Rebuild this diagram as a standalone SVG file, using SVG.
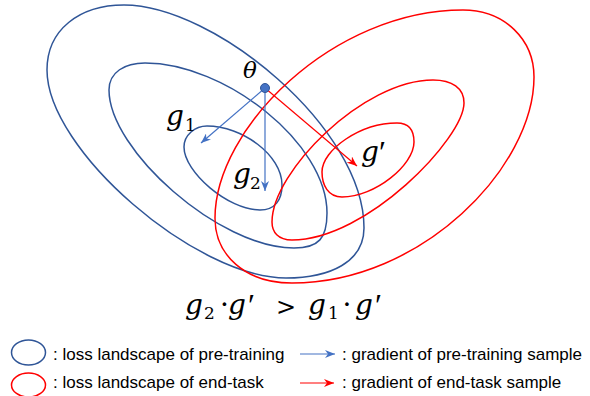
<svg xmlns="http://www.w3.org/2000/svg" width="590" height="396" viewBox="0 0 590 396">
<defs>
<marker id="ab" markerWidth="11" markerHeight="8" refX="10" refY="4" orient="auto" markerUnits="userSpaceOnUse"><path d="M0,0 L10,4 L0,8 L3,4 Z" fill="#4472C4"/></marker>
<marker id="ar" markerWidth="11" markerHeight="8" refX="10" refY="4" orient="auto" markerUnits="userSpaceOnUse"><path d="M0,0 L10,4 L0,8 L3,4 Z" fill="#FF0000"/></marker>
</defs>
<style>
.pre{fill:none;stroke:#2F5597;stroke-width:1.5}
.end{fill:none;stroke:#FF0000;stroke-width:1.5}
.ga{fill:none;stroke:#4472C4;stroke-width:1.2}
.ge{fill:none;stroke:#FF0000;stroke-width:1.2}
.m{font-family:"DejaVu Serif","Liberation Serif",serif;font-style:italic;font-size:28px;fill:#000}
.u{font-family:"DejaVu Serif","Liberation Serif",serif;font-size:28px;fill:#000}
.p{font-family:"Liberation Serif","DejaVu Serif",serif;font-size:32px;fill:#000}
.s{font-family:"DejaVu Serif","Liberation Serif",serif;font-size:17px;fill:#000}
.lg{font-family:"Liberation Sans",Arial,sans-serif;font-size:17px;fill:#000}
</style>
<rect width="590" height="396" fill="#fff"/>
<g id="pretrain-contours">
<path id="pre-outer" class="pre" d="M124,5 C214,5 364,128 364,228 C364,262 330,278 286,278 C196,278 47,150 47,70 C47,30 79,5 124,5 Z"/>
<path id="pre-middle" class="pre" d="M145,63 C225,63 327,143 327,213 C327,238 319,248 294,248 C219,248 109,150 109,90 C109,72 125,63 145,63 Z"/>
<path id="pre-inner" class="pre" d="M207,126 C242,126 282,155 282,185 C282,200 275,210 260,210 C228,210 184,172 184,147 C184,135 195,126 207,126 Z"/>
</g>
<g id="endtask-contours">
<path id="end-outer" class="end" d="M215,218 C215,128 333,10 463,10 C505,10 534,40 534,77 C534,167 422,283 292,283 C245,283 215,255 215,218 Z"/>
<path id="end-middle" class="end" d="M272,222 C272,172 363,80 433,80 C452,80 464,88 464,103 C464,138 367,240 292,240 C278,240 272,232 272,222 Z"/>
<path id="end-inner" class="end" d="M322,172 C322,150 360,123 397,123 C410,123 414,132 414,142 C414,165 375,197 342,197 C328,197 322,185 322,172 Z"/>
</g>
<g id="connectors">
<line class="ga" x1="265" y1="88" x2="201" y2="143" marker-end="url(#ab)"/>
<line class="ga" x1="265" y1="88" x2="265" y2="191" marker-end="url(#ab)"/>
<line class="ge" x1="265" y1="88" x2="357" y2="166" marker-end="url(#ar)"/>
</g>
<g id="theta">
<circle cx="265" cy="88" r="4.5" fill="#4472C4" stroke="#2F5597" stroke-width="1"/>
<text class="m" x="243" y="78" style="font-size:23px">θ</text>
</g>
<g id="label-g1"><text class="m" x="166" y="125">g</text><text class="s" x="185" y="131">1</text></g>
<g id="label-g2"><text class="m" x="233" y="183">g</text><text class="s" x="250" y="189">2</text></g>
<g id="label-gp"><text class="m" x="361" y="161">g</text><text class="p" x="379" y="163">′</text></g>
<g id="formula">
<text class="m" x="185" y="314">g</text>
<text class="s" x="204" y="319">2</text>
<text class="u" x="224.5" y="314" text-anchor="middle">·</text>
<text class="m" x="228" y="314">g</text>
<text class="p" x="248" y="316">′</text>
<text class="u" x="286" y="315" text-anchor="middle" style="font-size:24px">&gt;</text>
<text class="m" x="308" y="314">g</text>
<text class="s" x="328" y="319">1</text>
<text class="u" x="347" y="314" text-anchor="middle">·</text>
<text class="m" x="355" y="314">g</text>
<text class="p" x="375" y="316">′</text>
</g>
<g id="legend">
<ellipse cx="28.5" cy="352.5" rx="17" ry="12.5" class="pre"/>
<text class="lg" x="53" y="360">: loss landscape of pre-training</text>
<line class="ga" x1="300" y1="354" x2="335" y2="354" marker-end="url(#ab)"/>
<text class="lg" x="342" y="360">: gradient of pre-training sample</text>
<ellipse cx="28.5" cy="385" rx="17" ry="12" class="end"/>
<text class="lg" x="53" y="388">: loss landscape of end-task</text>
<line class="ge" x1="300" y1="383" x2="334" y2="383" marker-end="url(#ar)"/>
<text class="lg" x="342" y="388">: gradient of end-task sample</text>
</g>
</svg>
